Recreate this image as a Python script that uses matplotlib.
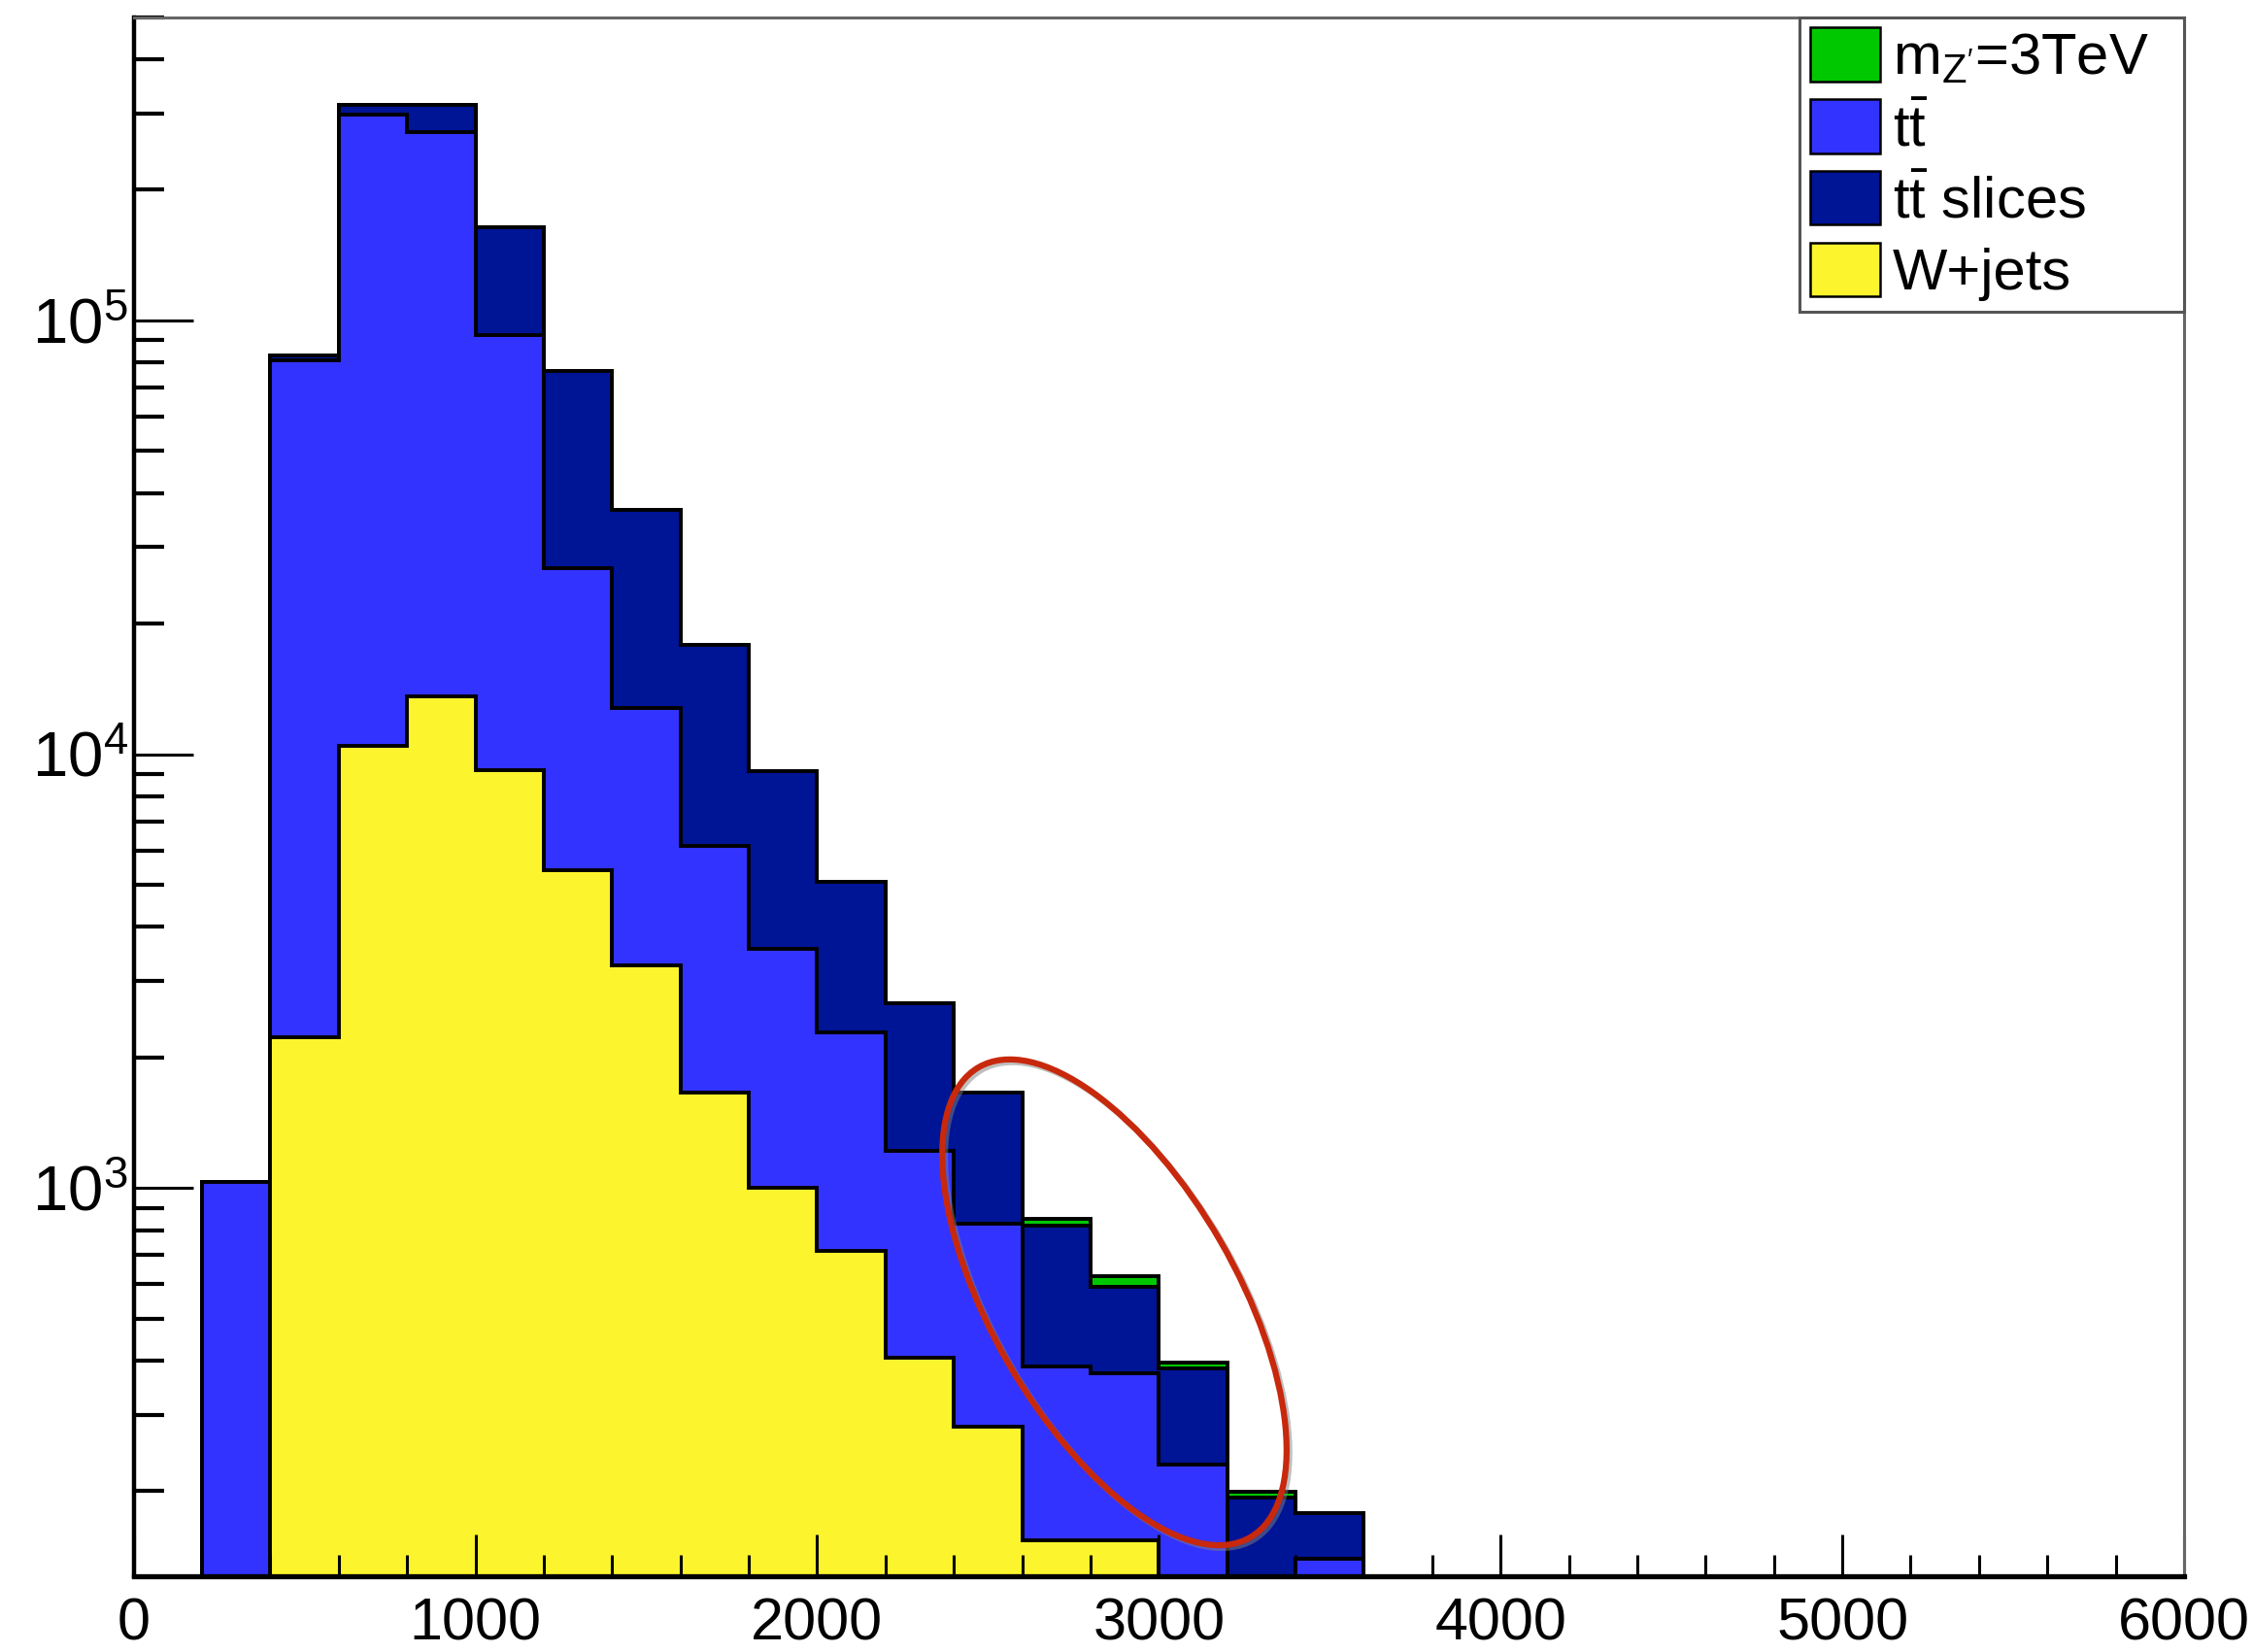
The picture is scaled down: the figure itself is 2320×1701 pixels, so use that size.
import numpy as np
import matplotlib.pyplot as plt
import matplotlib.patheffects as pe
from matplotlib.patches import Patch, Ellipse
from matplotlib.transforms import IdentityTransform
from matplotlib.ticker import MultipleLocator, LogLocator, NullFormatter

plt.rcParams['font.family'] = ['Liberation Sans', 'DejaVu Sans']
plt.rcParams['mathtext.fontset'] = 'custom'
plt.rcParams['mathtext.rm'] = 'Liberation Sans'
plt.rcParams['mathtext.it'] = 'Liberation Sans'
plt.rcParams['mathtext.bf'] = 'Liberation Sans:bold'

# 200 GeV bins from 0 to 6000
bin_edges = np.arange(0, 6001, 200)
wjets = [0, 0, 2230, 10470, 13570, 9200, 5400, 3260, 1655, 1000,
         715, 406, 282, 154, 154, 0, 0, 0, 0, 0,
         0, 0, 0, 0, 0, 0, 0, 0, 0, 0]
ttbar = [0, 1030, 78500, 287000, 258000, 83500, 21500, 9500, 4480, 2550,
         1565, 813, 544, 234, 220, 230, 60, 140, 0, 0,
         0, 0, 0, 0, 0, 0, 0, 0, 0, 0]
ttbar_slices = [0, 0, 2500, 16300, 42300, 71400, 49600, 23800, 11700, 5580,
                2800, 1450, 830, 430, 217, 153, 133, 38, 0, 0,
                0, 0, 0, 0, 0, 0, 0, 0, 0, 0]
zprime = [0, 0, 0, 0, 0, 0, 0, 0, 0, 0,
          0, 0, 5, 30, 36, 12, 6, 0, 0, 0,
          0, 0, 0, 0, 0, 0, 0, 0, 0, 0]

labels = ["W+jets", r"t$\bar{\mathrm{t}}$", r"t$\bar{\mathrm{t}}$ slices", r"m$_{\mathrm{Z'}}$=3TeV"]
colors = ["#FCF52E", "#3333FF", "#001496", "#00C800"]

fig = plt.figure(figsize=(23.2, 17.01), dpi=100)
W, H = 2320, 1701
ax = fig.add_axes([137.6 / W, 1 - 1622.6 / H, (2249 - 137.6) / W, (1622.6 - 17.7) / H])

stack = np.cumsum(np.array([wjets, ttbar, ttbar_slices, zprime], dtype=float), axis=0)
for i in reversed(range(len(stack))):
    ax.stairs(np.maximum(stack[i], 1), bin_edges, baseline=1, fill=True,
              facecolor=colors[i], edgecolor="black", linewidth=2.8)

ax.set_yscale("log")
ax.set_xlim(0, 6000)
ax.set_ylim(127.6, 5.0e5)

ax.xaxis.set_major_locator(MultipleLocator(1000))
ax.xaxis.set_minor_locator(MultipleLocator(200))
ax.yaxis.set_major_locator(LogLocator(base=10, numticks=10))
ax.yaxis.set_minor_locator(LogLocator(base=10, subs=np.arange(2, 10), numticks=20))
ax.yaxis.set_minor_formatter(NullFormatter())

ax.tick_params(axis="x", which="major", direction="in", length=31, width=2.2, labelsize=44, pad=16, top=False)
ax.tick_params(axis="x", which="minor", direction="in", length=16, width=2.2, top=False)
ax.tick_params(axis="y", which="major", direction="in", length=44, width=2.2, labelsize=47, pad=4, right=False)
ax.tick_params(axis="y", which="minor", direction="in", length=22, width=3, right=False)

ax.spines["left"].set_linewidth(3.2)
ax.spines["bottom"].set_linewidth(3.8)
for s in ("top", "right"):
    ax.spines[s].set_linewidth(2.2)
    ax.spines[s].set_color("#666666")

handles = [Patch(facecolor=colors[i], edgecolor="black", linewidth=1.8) for i in (3, 1, 2, 0)]
leg_labels = [labels[i] for i in (3, 1, 2, 0)]
leg = ax.legend(handles, leg_labels, loc="upper right", bbox_to_anchor=(0.8125, 0.0, 0.1875, 1.0),
                mode="expand", borderaxespad=0, fontsize=43, frameon=True, fancybox=False,
                edgecolor="#555555", framealpha=1, handlelength=1.2, handleheight=1.05,
                handletextpad=0.22, labelspacing=0.23, borderpad=0.18)
leg.get_frame().set_linewidth(2.2)

# hand-drawn red ring around the high-mass tail
cx, cy = ax.transData.transform((2870, 545))
ring = Ellipse((cx, cy), width=559, height=252, angle=-60, transform=IdentityTransform(),
               facecolor="none", edgecolor="#C8280C", linewidth=4.5, clip_on=False, zorder=5)
ring.set_path_effects([pe.SimpleLineShadow(offset=(2, -2), shadow_color="gray", alpha=0.5), pe.Normal()])
ax.add_artist(ring)

fig.savefig("out.png", dpi=100)
